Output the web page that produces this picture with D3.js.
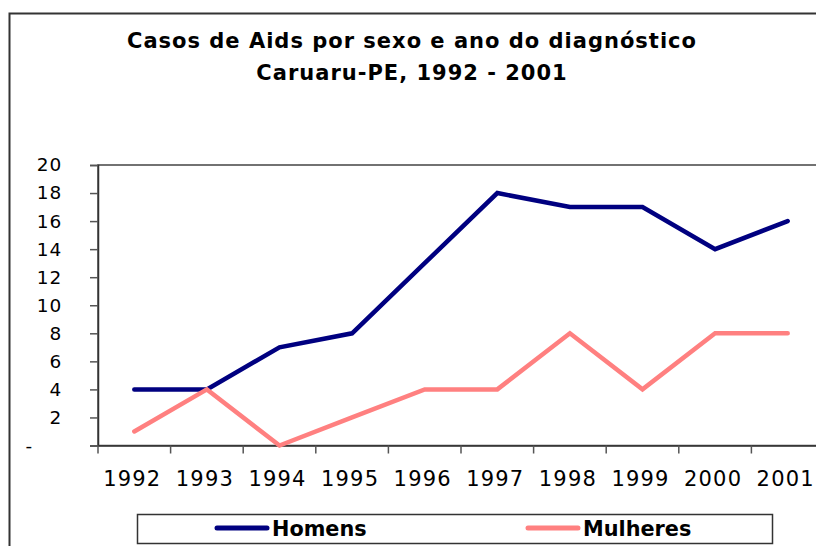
<!DOCTYPE html>
<html><head><meta charset="utf-8">
<script src="https://cdn.jsdelivr.net/npm/d3@7"></script>
<style>body{margin:0;background:#fff}svg{display:block}</style>
</head><body>
<svg id="c" width="816" height="546"></svg>
<script>
const years = ["1992","1993","1994","1995","1996","1997","1998","1999","2000","2001"];
const homens = [4,4,7,8,13,18,17,17,14,16];
const mulheres = [1,4,0,2,4,4,8,4,8,8];
const yTicks = [0,2,4,6,8,10,12,14,16,18,20];
const titleLines = ["Casos de Aids por sexo e ano do diagnóstico","Caruaru-PE, 1992 - 2001"];
const seriesNames = ["Homens","Mulheres"];
const colors = ["#000080","#FF8080"];

const svg = d3.select("#c");
const font = "DejaVu Sans, Verdana, sans-serif";

// outer frame
svg.append("rect").attr("x",9.5).attr("y",13.5).attr("width",900).attr("height",700)
  .attr("fill","none").attr("stroke","#333").attr("stroke-width",2);

const L=98, R=824, T=165, B=445.5;
const x = d3.scaleBand().domain(years).range([L,R]);
const y = d3.scaleLinear().domain([0,20]).range([B,T]);

// plot area border
svg.append("rect").attr("x",L).attr("y",T).attr("width",R-L).attr("height",B-T)
  .attr("fill","none").attr("stroke","#444").attr("stroke-width",1.5);

// title
svg.append("g").selectAll("text").data(titleLines).join("text")
  .attr("x",412).attr("y",(d,i)=>47.5+i*32).attr("text-anchor","middle")
  .attr("font-family",font).attr("font-weight","bold").attr("font-size",21)
  .attr("letter-spacing",1).attr("fill","#000").text(d=>d);

// y axis
const yAxis = d3.axisLeft(y).tickValues(yTicks).tickSize(8).tickPadding(28)
  .tickFormat(d=>d===0?"-":d);
const gy = svg.append("g").attr("transform",`translate(${L},0)`).call(yAxis);
gy.select(".domain").attr("stroke","#333").attr("stroke-width",1.5);
gy.selectAll(".tick line").attr("stroke","#555").attr("stroke-width",1.5);
gy.selectAll(".tick text").attr("font-family",font).attr("font-size",18.5)
  .attr("letter-spacing",0.8).attr("fill","#000");
gy.selectAll(".tick").filter(d=>d===0).select("text").attr("x",-65);

// x axis
const xAxis = d3.axisBottom(x).tickSize(0).tickPadding(0);
const gx = svg.append("g").attr("transform",`translate(0,${B})`).call(xAxis);
gx.select(".domain").attr("stroke","#333").attr("stroke-width",1.5);
gx.selectAll(".tick text").attr("font-family",font).attr("font-size",21)
  .attr("letter-spacing",1.2).attr("fill","#000")
  .attr("dy",0).attr("y",40.5).attr("dx",-2);
// band boundary ticks
gx.selectAll(".bt").data(years).join("line").attr("class","bt")
  .attr("x1",d=>x(d)).attr("x2",d=>x(d)).attr("y1",0).attr("y2",8)
  .attr("stroke","#555").attr("stroke-width",1.5);

// lines
const line = d3.line().x((d,i)=>x(years[i])+x.bandwidth()/2).y(d=>y(d));
[homens,mulheres].forEach((s,k)=>{
  svg.append("path").datum(s).attr("d",line).attr("fill","none")
    .attr("stroke",colors[k]).attr("stroke-width",4.5)
    .attr("stroke-linejoin","miter").attr("stroke-linecap","round");
});

// legend
svg.append("rect").attr("x",137.5).attr("y",514.5).attr("width",635).attr("height",29)
  .attr("fill","#fff").attr("stroke","#333").attr("stroke-width",1.5);
const legX = [217,528];
seriesNames.forEach((n,k)=>{
  svg.append("line").attr("x1",legX[k]).attr("x2",legX[k]+50).attr("y1",528).attr("y2",528)
    .attr("stroke",colors[k]).attr("stroke-width",5).attr("stroke-linecap","round");
  svg.append("text").attr("x",legX[k]+55).attr("y",536).attr("font-family",font)
    .attr("font-weight","bold").attr("font-size",20.8).attr("fill","#000").text(n);
});
</script>
</body></html>
